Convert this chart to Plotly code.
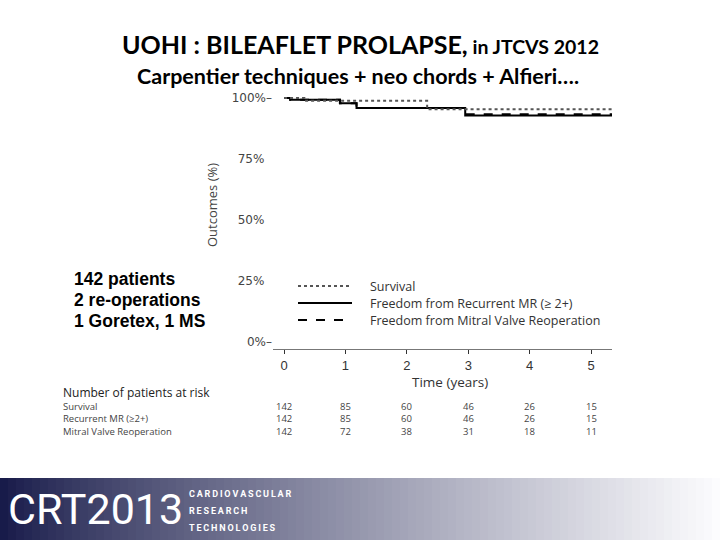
import plotly.graph_objects as go

# ---------------- data ----------------
surv_t = [0, 0.33, 2.33, 5.35]
surv_v = [100, 98.8, 95.3, 95.3]
mr_t = [0, 0.10, 0.91, 1.18, 2.95, 5.35]
mr_v = [100, 99.2, 97.8, 95.9, 92.8, 92.8]
reop_t = [0, 0.10, 0.91, 1.18, 2.95, 5.35]
reop_v = [100, 99.2, 97.8, 95.9, 93.3, 93.3]

series_names = ["Survival", "Freedom from Recurrent MR (\u2265 2+)", "Freedom from Mitral Valve Reoperation"]

x_ticks = [0, 1, 2, 3, 4, 5]
y_ticks = [0, 25, 50, 75, 100]
y_ticktext = ["0%\u2013", "25%\u00a0\u00a0", "50%\u00a0\u00a0", "75%\u00a0\u00a0", "100%\u2013"]

risk_times = [0, 1, 2, 3, 4, 5]
risk_rows = ["Survival", "Recurrent MR (\u22652+)", "Mitral Valve Reoperation"]
risk_survival = [142, 85, 60, 46, 26, 15]
risk_mr = [142, 85, 60, 46, 26, 15]
risk_reop = [142, 72, 38, 31, 18, 11]

notes = ["142 patients", "2 re-operations", "1 Goretex, 1 MS"]

# ---------------- geometry helpers ----------------
W, H = 720, 540
L, R, T, B = 273, 612, 93, 349  # plot area in pixels


def px(x):
    return (x - L) / (R - L)


def py(y):
    return (B - y) / (B - T)


fig = go.Figure()

fig.add_trace(go.Scatter(x=reop_t, y=reop_v, mode="lines", line_shape="hv",
                         line=dict(color="black", width=2, dash="dash"), name=series_names[2]))
fig.add_trace(go.Scatter(x=mr_t, y=mr_v, mode="lines", line_shape="hv",
                         line=dict(color="black", width=2), name=series_names[1]))
fig.add_trace(go.Scatter(x=surv_t, y=surv_v, mode="lines", line_shape="hv",
                         line=dict(color="#555555", width=2, dash="dot"), name=series_names[0]))

annotations = []
shapes = []

# Banner gradient
n = 90
c0 = (24, 27, 74)
c1 = (252, 252, 254)
for i in range(n):
    f = i / (n - 1)
    f2 = f ** 0.85
    col = tuple(int(c0[k] + (c1[k] - c0[k]) * f2) for k in range(3))
    shapes.append(dict(type="rect", xref="paper", yref="paper",
                       x0=px(i * W / n), x1=px((i + 1) * W / n + 0.5),
                       y0=py(540), y1=py(478), fillcolor="rgb(%d,%d,%d)" % col,
                       line=dict(width=0), layer="below"))

annotations.append(dict(text="CRT2013", xref="paper", yref="paper", x=px(6), y=py(509),
                        xanchor="left", yanchor="middle", showarrow=False,
                        font=dict(family="Roboto", size=43, color="white")))
for txt, yy in [("CARDIOVASCULAR", 494), ("RESEARCH", 511), ("TECHNOLOGIES", 528)]:
    spaced = "\u2009".join(list(txt))
    annotations.append(dict(text="<b>" + spaced + "</b>", xref="paper", yref="paper", x=px(187), y=py(yy),
                            xanchor="left", yanchor="middle", showarrow=False,
                            font=dict(family="Roboto", size=9, color="white")))

# Titles
annotations.append(dict(text="<b>UOHI : BILEAFLET PROLAPSE,</b><b><span style='font-size:19.5px'> in JTCVS 2012</span></b>",
                        xref="paper", yref="paper", x=px(360), y=py(44), xanchor="center", yanchor="middle",
                        showarrow=False, font=dict(family="Lato", size=25, color="black")))
annotations.append(dict(text="<b>Carpentier techniques + neo chords + Alfieri\u2026.</b>",
                        xref="paper", yref="paper", x=px(358), y=py(76), xanchor="center", yanchor="middle",
                        showarrow=False, font=dict(family="Lato", size=21.5, color="black")))

# Left notes
for txt, yy in zip(notes, [279, 300, 321]):
    annotations.append(dict(text="<b>" + txt + "</b>",
                            xref="paper", yref="paper", x=px(72), y=py(yy), xanchor="left", yanchor="middle",
                            showarrow=False, font=dict(family="Liberation Sans", size=17.5, color="black")))

# Axis titles
annotations.append(dict(text="Outcomes (%)", xref="paper", yref="paper", x=px(212), y=py(205),
                        xanchor="center", yanchor="middle", textangle=-90, showarrow=False,
                        font=dict(family="Open Sans", size=13, color="#444444")))
annotations.append(dict(text="Time (years)", xref="paper", yref="paper", x=px(450), y=py(382),
                        xanchor="center", yanchor="middle", showarrow=False,
                        font=dict(family="Open Sans", size=13.5, color="#333333")))

# Legend
styles = [dict(color="#555555", width=2, dash="dot"), dict(color="black", width=2),
          dict(color="black", width=2, dash="dash")]
for name, st, yy in zip(series_names, styles, [286, 303, 320]):
    shapes.append(dict(type="line", xref="paper", yref="paper", x0=px(298), x1=px(352),
                       y0=py(yy), y1=py(yy), line=st))
    annotations.append(dict(text=name, xref="paper", yref="paper", x=px(368), y=py(yy),
                            xanchor="left", yanchor="middle", showarrow=False,
                            font=dict(family="Open Sans", size=12.5, color="#333333")))

# Number at risk table
annotations.append(dict(text="Number of patients at risk", xref="paper", yref="paper", x=px(62), y=py(392),
                        xanchor="left", yanchor="middle", showarrow=False, borderpad=0,
                        font=dict(family="Open Sans", size=12, color="#222222")))
for label, vals, yy in zip(risk_rows, [risk_survival, risk_mr, risk_reop], [406, 418.5, 431]):
    annotations.append(dict(text=label, xref="paper", yref="paper", x=px(62), y=py(yy),
                            xanchor="left", yanchor="middle", showarrow=False, borderpad=0,
                            font=dict(family="Open Sans", size=9.5, color="#444444")))
    for t, v in zip(risk_times, vals):
        annotations.append(dict(text=str(v), xref="x", yref="paper", x=t, y=py(yy),
                                xanchor="center", yanchor="middle", showarrow=False, borderpad=0,
                                font=dict(family="Open Sans", size=9.5, color="#444444")))

fig.update_layout(
    width=W, height=H,
    margin=dict(l=L, r=W - R, t=T, b=H - B, pad=0),
    paper_bgcolor="white", plot_bgcolor="white",
    showlegend=False,
    shapes=shapes, annotations=annotations,
    xaxis=dict(range=[-0.18, 5.34], tickvals=x_ticks, ticktext=[str(v) for v in x_ticks],
               showgrid=False, zeroline=False, showline=True, linecolor="#777777", linewidth=1,
               ticks="outside", ticklen=4, tickcolor="#333333",
               tickfont=dict(family="Liberation Sans", size=13, color="#333333")),
    yaxis=dict(range=[-2.9, 102], tickvals=y_ticks, ticktext=y_ticktext,
               showgrid=False, zeroline=False, showline=False, ticks="",
               tickfont=dict(family="DejaVu Sans", size=12, color="#444444")),
)

fig.write_html("out.html", config={"displayModeBar": False},
               post_script="document.body.style.margin='0';document.body.style.overflow='hidden';")
